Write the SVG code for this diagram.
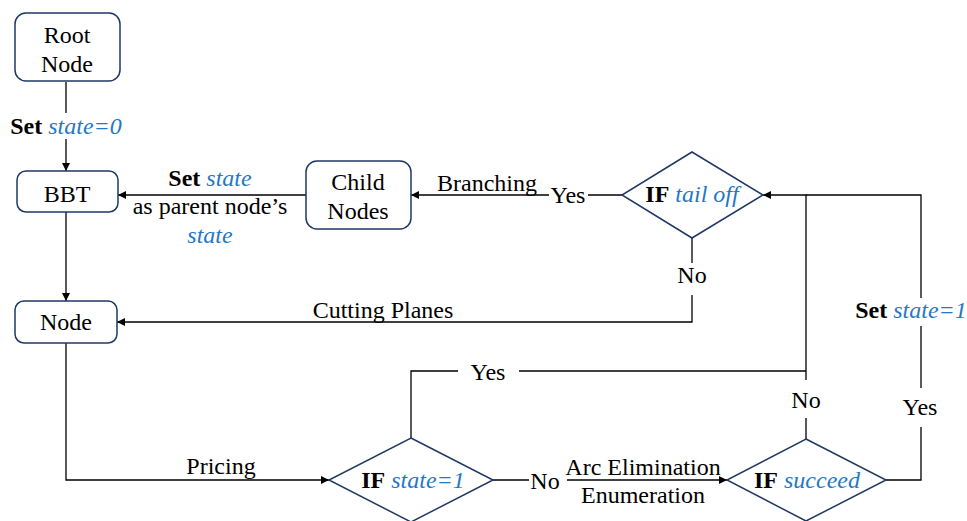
<svg xmlns="http://www.w3.org/2000/svg" width="967" height="521" viewBox="0 0 967 521" font-family="'Liberation Serif', serif">
<defs>
<marker id="ah" viewBox="0 0 10 10" refX="10" refY="5" markerWidth="9" markerHeight="8" markerUnits="userSpaceOnUse" orient="auto">
<path d="M0,0 L10,5 L0,10 z" fill="#000"/>
</marker>
<style>
.box{fill:#fff;stroke:#1f3864;stroke-width:1.5}
.dia{fill:#fff;stroke:#1f3864;stroke-width:1.5}
.ln{fill:none;stroke:#000;stroke-width:1.3}
.arr{marker-end:url(#ah)}
text{font-family:'Liberation Serif',serif;font-size:24px;fill:#000}
.c{text-anchor:middle}
.b{font-weight:bold}
.v{font-style:italic;fill:#1f78c8}
</style>
</defs>
<rect width="967" height="521" fill="#fff"/>
<g id="connectors">
<path class="ln" d="M66,82 V113"/>
<path class="ln arr" d="M66,139 V171"/>
<path class="ln arr" d="M66,212 V301"/>
<path class="ln arr" d="M66,343 V480 H329"/>
<path class="ln" d="M493,480 H529"/>
<path class="ln arr" d="M567,480 H727"/>
<path class="ln" d="M411,438 V371 H458"/>
<path class="ln" d="M519,371 H806"/>
<path class="ln" d="M806,439 V418"/>
<path class="ln arr" d="M806,380 V195 H763"/>
<path class="ln" d="M886,480 H921 V427"/>
<path class="ln" d="M921,388 V326"/>
<path class="ln" d="M921,298 V195 H806"/>
<path class="ln" d="M692,238 V263"/>
<path class="ln arr" d="M692,295 V322 H117"/>
<path class="ln" d="M622,195 H588"/>
<path class="ln arr" d="M549,195 H411"/>
<path class="ln arr" d="M306,195 H118"/>
<text x="66" y="134" class="c"><tspan class="b">Set</tspan> <tspan class="v">state=0</tspan></text>
<text x="210" y="186" class="c"><tspan class="b">Set</tspan> <tspan class="v">state</tspan></text>
<text x="210" y="214" class="c">as parent node’s</text>
<text x="210" y="243" class="c v">state</text>
<text x="487" y="191" class="c">Branching</text>
<text x="568" y="203" class="c">Yes</text>
<text x="692" y="283" class="c">No</text>
<text x="383" y="318" class="c">Cutting Planes</text>
<text x="221" y="474" class="c">Pricing</text>
<text x="488" y="380" class="c">Yes</text>
<text x="545" y="489" class="c">No</text>
<text x="643" y="475" class="c">Arc Elimination</text>
<text x="643" y="503" class="c">Enumeration</text>
<text x="806" y="408" class="c">No</text>
<text x="920" y="415" class="c">Yes</text>
<text x="911" y="318" class="c"><tspan class="b">Set</tspan> <tspan class="v">state=1</tspan></text>
</g>
<g id="root">
<rect class="box" x="15" y="13" width="105" height="68" rx="11"/>
<text x="67" y="43" class="c">Root</text>
<text x="67" y="72" class="c">Node</text>
</g>
<g id="bbt">
<rect class="box" x="17" y="171" width="101" height="41" rx="9"/>
<text x="67" y="202" class="c">BBT</text>
</g>
<g id="child">
<rect class="box" x="306" y="161" width="105" height="68" rx="11"/>
<text x="358" y="190" class="c">Child</text>
<text x="358" y="219" class="c">Nodes</text>
</g>
<g id="node">
<rect class="box" x="15" y="301" width="102" height="42" rx="9"/>
<text x="66" y="330" class="c">Node</text>
</g>
<g id="tailoff">
<polygon class="dia" points="692,152 763,195 692,238 622,195"/>
<text x="692" y="202" class="c"><tspan class="b">IF</tspan> <tspan class="v">tail off</tspan></text>
</g>
<g id="state">
<polygon class="dia" points="411,438 493,480 411,522 329,480"/>
<text x="413" y="488" class="c"><tspan class="b">IF</tspan> <tspan class="v">state=1</tspan></text>
</g>
<g id="succeed">
<polygon class="dia" points="806,439 886,480 806,521 727,480"/>
<text x="807" y="488" class="c"><tspan class="b">IF</tspan> <tspan class="v">succeed</tspan></text>
</g>
</svg>
